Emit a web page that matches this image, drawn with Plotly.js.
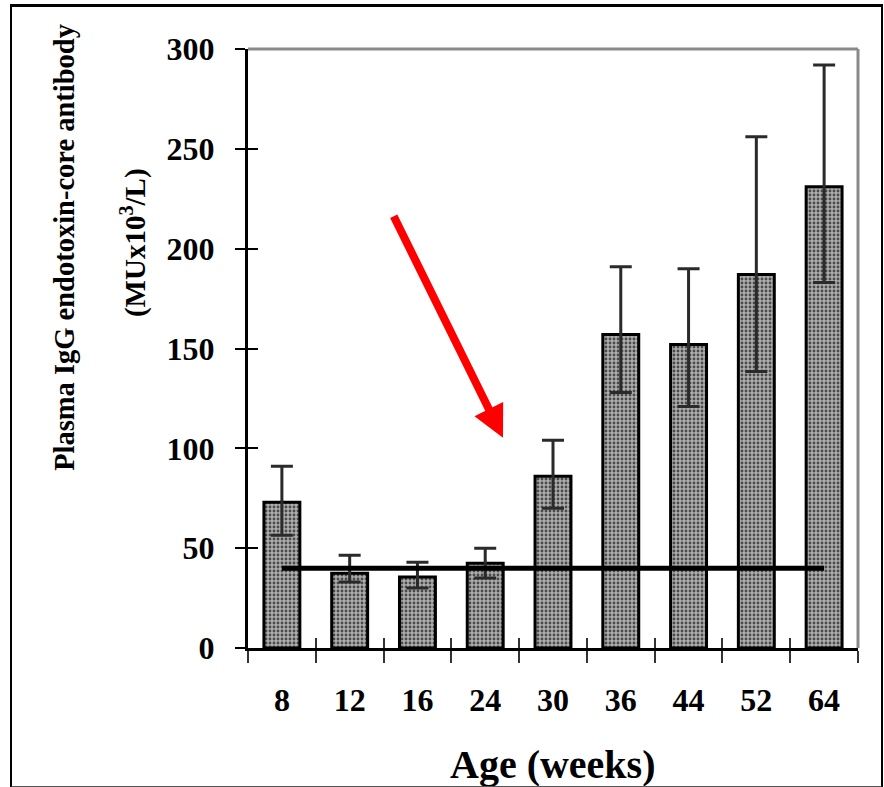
<!DOCTYPE html>
<html>
<head>
<meta charset="utf-8">
<script src="https://cdn.plot.ly/plotly-3.0.1.min.js"></script>
<style>
  html, body { margin: 0; padding: 0; background: #fff; }
  #wrap { position: relative; width: 884px; height: 787px; }
  #chart { position: absolute; left: 0; top: 0; width: 884px; height: 787px; }
  #frame { position: absolute; left: 10px; top: 4px; width: 869px; height: 779px;
           border-top: 3px solid #000; border-left: 2px solid #000; border-right: 2px solid #000;
           border-bottom: 2px solid #555; pointer-events: none; }
</style>
</head>
<body>
<div id="wrap"><div id="chart"></div><div id="frame"></div></div>
<script>
// ---- data ----
const ages      = ['8', '12', '16', '24', '30', '36', '44', '52', '64'];
const meanIgG   = [73, 37.5, 35.5, 42.5, 86, 157, 152, 187, 231];
const errUpper  = [18, 9, 7.5, 7.5, 18, 34, 38, 69, 61];
const errLower  = [16.5, 4.5, 5.5, 7.5, 16, 29, 31, 48.5, 48];
const baselineLevel = 40;
const yTicks    = [0, 50, 100, 150, 200, 250, 300];

const serif = 'Liberation Serif, Times New Roman, serif';

const bars = {
  type: 'bar',
  x: ages,
  y: meanIgG,
  width: 0.53,
  marker: {
    color: '#a0a0a0',
    line: { color: '#000', width: 3 },
    pattern: { shape: '.', fgcolor: '#4a4a4a', bgcolor: '#aeaeae', size: 4, solidity: 0.4 }
  },
  error_y: {
    type: 'data', symmetric: false,
    array: errUpper, arrayminus: errLower,
    color: '#2a2a2a', thickness: 3, width: 11
  },
  hoverinfo: 'skip', showlegend: false
};

const baseline = {
  type: 'scatter', mode: 'lines',
  x: [ages[0], ages[ages.length - 1]],
  y: [baselineLevel, baselineLevel],
  xaxis: 'x2', yaxis: 'y2',
  line: { color: '#000', width: 5 },
  hoverinfo: 'skip', showlegend: false
};

const layout = {
  width: 884, height: 787,
  margin: { l: 248, r: 26, t: 49, b: 139 },
  paper_bgcolor: '#fff', plot_bgcolor: '#fff',
  bargap: 0.47,
  xaxis: {
    type: 'category', categoryarray: ages, range: [-0.5, 8.5],
    showline: true, linecolor: '#000', linewidth: 3,
    ticks: 'outside', tickson: 'boundaries', ticklen: 12, tickwidth: 2, tickcolor: '#333',
    ticklabelstandoff: 22,
    tickfont: { family: serif, size: 32, color: '#000', weight: 'bold' },
    showgrid: false, zeroline: false, fixedrange: true
  },
  yaxis: {
    range: [0, 300], tickvals: yTicks,
    showline: true, linecolor: '#000', linewidth: 3,
    ticks: 'outside', ticklen: 10, tickwidth: 2, tickcolor: '#000',
    ticklabelstandoff: 14,
    tickfont: { family: serif, size: 32, color: '#000', weight: 'bold' },
    showgrid: false, zeroline: false, fixedrange: true
  },
  xaxis2: {
    type: 'category', categoryarray: ages, range: [-0.5, 8.5], overlaying: 'x',
    ticks: 'inside', tickson: 'boundaries', ticklen: 10, tickwidth: 2, tickcolor: '#333',
    showticklabels: false, showgrid: false, zeroline: false, showline: false, fixedrange: true
  },
  yaxis2: {
    range: [0, 300], tickvals: yTicks, overlaying: 'y', side: 'left',
    ticks: 'inside', ticklen: 10, tickwidth: 2, tickcolor: '#000',
    showticklabels: false, showgrid: false, zeroline: false, showline: false, fixedrange: true
  },
  shapes: [
    { type: 'line', xref: 'paper', yref: 'paper', x0: 0, x1: 1, y0: 1, y1: 1,
      line: { color: '#8a8a8a', width: 3 } },
    { type: 'line', xref: 'paper', yref: 'paper', x0: 1, x1: 1, y0: 0, y1: 1,
      line: { color: '#8a8a8a', width: 3 } }
  ],
  annotations: [
    { xref: 'paper', yref: 'paper', x: 0.5, y: -0.195, xanchor: 'center', yanchor: 'middle',
      text: 'Age (weeks)', showarrow: false,
      font: { family: serif, size: 40, color: '#000', weight: 'bold' } },
    { xref: 'paper', yref: 'paper', x: -0.300, y: 0.668, xanchor: 'center', yanchor: 'middle',
      text: 'Plasma IgG endotoxin-core antibody', textangle: -90, showarrow: false,
      font: { family: serif, size: 28.5, color: '#000', weight: 'bold' } },
    { xref: 'paper', yref: 'paper', x: -0.1885, y: 0.676, xanchor: 'center', yanchor: 'middle',
      text: '(MUx10<sup>3</sup>/L)', textangle: -90, showarrow: false,
      font: { family: serif, size: 29, color: '#000', weight: 'bold' } },
    { xref: 'paper', yref: 'paper', x: 0.418, y: 0.351, text: '', showarrow: true,
      axref: 'pixel', ayref: 'pixel', ax: -110, ay: -223,
      arrowcolor: '#ff0000', arrowwidth: 8, arrowhead: 2, arrowsize: 0.8, standoff: 0 }
  ]
};

Plotly.newPlot('chart', [bars, baseline], layout, { displayModeBar: false, staticPlot: true });
</script>
</body>
</html>
